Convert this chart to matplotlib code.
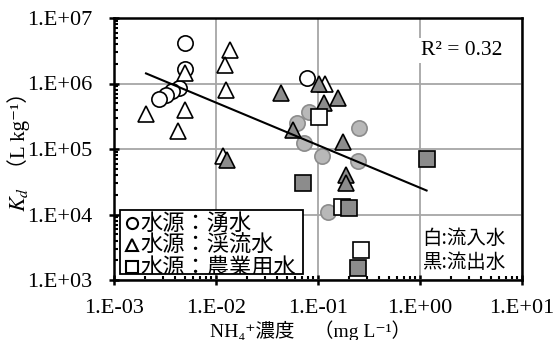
import numpy as np
import matplotlib
matplotlib.use("Agg")
import matplotlib.pyplot as plt
from matplotlib.ticker import LogLocator, FuncFormatter, NullFormatter
from matplotlib.patches import Rectangle
from matplotlib.lines import Line2D

# ---- data (NH4+ concentration mg/L, Kd L/kg) ----
spring_in_x = [0.00497, 0.0050, 0.00437, 0.00368, 0.00323, 0.00278, 0.0785]
spring_in_y = [4.15e6, 1.66e6, 8.6e5, 7.7e5, 6.7e5, 5.8e5, 1.2e6]
spring_out_x = [0.0817, 0.0618, 0.0729, 0.110, 0.252, 0.248, 0.126]
spring_out_y = [3.7e5, 2.5e5, 1.22e5, 7.7e4, 2.1e5, 6.6e4, 1.1e4]
stream_in_x = [0.0137, 0.01225, 0.0124, 0.00497, 0.00497, 0.00427, 0.00206, 0.0118, 0.117]
stream_in_y = [3.3e6, 1.9e6, 8.0e5, 1.43e6, 4.0e5, 1.9e5, 3.4e5, 7.8e4, 9.8e5]
stream_out_x = [0.043, 0.103, 0.1146, 0.158, 0.0573, 0.175, 0.188, 0.188, 0.0127]
stream_out_y = [7.1e5, 9.8e5, 5.0e5, 6.0e5, 1.95e5, 1.3e5, 4.0e4, 3.0e4, 6.8e4]
agri_in_x = [0.103, 0.171, 0.264]
agri_in_y = [3.05e5, 1.3e4, 2.9e3]
agri_out_x = [0.0708, 0.203, 0.248, 1.16]
agri_out_y = [3.0e4, 1.25e4, 1.5e3, 7.0e4]

# power trendline y = a * x^b
trend_a = 2.56e4
trend_b = -0.65
r2_text = "R² = 0.32"

legend_labels = ["水源：湧水", "水源：渓流水", "水源：農業用水"]
note_labels = ["白:流入水", "黒:流出水"]
xlabel_text = "NH₄⁺濃度　（mg L⁻¹）"
ylabel_unit = "（L kg⁻¹）"

SERIF = ["Liberation Serif", "DejaVu Serif", "Noto Sans CJK JP"]
CJK = ["Noto Sans CJK JP", "DejaVu Sans"]

fig = plt.figure(figsize=(5.59, 3.40), dpi=100)
ax = fig.add_axes([114/559, 1-280/340, (522-114)/559, (280-18)/340])
ax.set_xscale("log")
ax.set_yscale("log")
ax.set_xlim(1e-3, 1e1)
ax.set_ylim(1e3, 1e7)

ax.grid(True, which="major", color="#a6a6a6", lw=1.3, zorder=0)
ax.set_axisbelow(True)

ms = 11
mew = 1.2
gray_fill = "#8c8c8c"
ax.plot(spring_in_x, spring_in_y, "o", ms=ms, mfc="white", mec="black", mew=mew, ls="none", zorder=3)
ax.plot(spring_out_x, spring_out_y, "o", ms=ms, mfc="#b8b8b8", mec="#8c8c8c", mew=mew, ls="none", zorder=3)
ax.plot(stream_in_x, stream_in_y, "^", ms=ms, mfc="white", mec="black", mew=mew, ls="none", zorder=4)
ax.plot(stream_out_x, stream_out_y, "^", ms=ms, mfc=gray_fill, mec="black", mew=mew, ls="none", zorder=4)
ax.plot(agri_in_x, agri_in_y, "s", ms=ms, mfc="white", mec="black", mew=mew, ls="none", zorder=5)
ax.plot(agri_out_x, agri_out_y, "s", ms=ms, mfc=gray_fill, mec="black", mew=mew, ls="none", zorder=5)

allx = np.array(spring_in_x + spring_out_x + stream_in_x + stream_out_x + agri_in_x + agri_out_x)
tx = np.logspace(np.log10(allx.min()), np.log10(allx.max()), 50)
ax.plot(tx, trend_a * tx ** trend_b, color="black", lw=1.5, zorder=6)

# ticks
for side in ["left", "right", "top", "bottom"]:
    ax.spines[side].set_linewidth(1.8)
    ax.spines[side].set_color("black")
ax.xaxis.set_major_locator(LogLocator(base=10, numticks=10))
ax.yaxis.set_major_locator(LogLocator(base=10, numticks=10))
ax.xaxis.set_minor_locator(LogLocator(base=10, subs=np.arange(2, 10), numticks=20))
ax.yaxis.set_minor_locator(LogLocator(base=10, subs=np.arange(2, 10), numticks=20))
fmt = FuncFormatter(lambda v, p: "1.E{:+03d}".format(int(round(np.log10(v)))))
ax.xaxis.set_major_formatter(fmt)
ax.yaxis.set_major_formatter(fmt)
ax.xaxis.set_minor_formatter(NullFormatter())
ax.yaxis.set_minor_formatter(NullFormatter())
ax.tick_params(which="major", direction="inout", length=7, width=1.8, labelsize=16)
ax.tick_params(axis="y", which="major", pad=12)
ax.tick_params(axis="x", which="major", pad=10)
ax.tick_params(which="minor", direction="in", length=3, width=1.5)
for lab in ax.get_xticklabels() + ax.get_yticklabels():
    lab.set_fontfamily(SERIF)

# R2 text
ax.text(0.752, 0.875, r2_text, transform=ax.transAxes, fontsize=15.5, family=SERIF,
        va="center", ha="left", bbox=dict(fc="white", ec="none", pad=2), zorder=7)

# notes
ax.text(0.755, 0.160, note_labels[0], transform=ax.transAxes, fontsize=14, family=CJK,
        va="center", ha="left", zorder=7)
ax.text(0.755, 0.068, note_labels[1], transform=ax.transAxes, fontsize=14, family=CJK,
        va="center", ha="left", zorder=7)

# manual legend (box clips text as in reference)
lx0, lx1 = (120-114)/408, (303-114)/408
ly0, ly1 = (280-274)/262, (280-210)/262
rect = Rectangle((lx0, ly0), lx1-lx0, ly1-ly0, transform=ax.transAxes, fc="white",
                 ec="black", lw=1.3, zorder=8)
ax.add_patch(rect)
markers = ["o", "^", "s"]
rows = [(280-223)/262, (280-245)/262, (280-267)/262]
for m, lab, ry in zip(markers, legend_labels, rows):
    ax.add_line(Line2D([0.044], [ry], marker=m, ms=8, mfc="white", mec="black", mew=1.5,
                       ls="none", transform=ax.transAxes, zorder=9))
    t = ax.text(0.064, ry, lab, transform=ax.transAxes, fontsize=16, family=CJK,
                va="center", ha="left", zorder=9)
    t.set_clip_path(rect)
    t.set_clip_on(True)

# axis labels
fig.text(310/559, 1-331/340, xlabel_text, ha="center", va="center", fontsize=14, family=SERIF)
fig.text(19/559, 1-199/340, r"$K_d$", ha="center", va="center", fontsize=16, rotation=90,
         math_fontfamily="stix")
fig.text(19/559, 1-130/340, ylabel_unit, ha="center", va="center", fontsize=15, rotation=90,
         family=SERIF)

fig.savefig("out.png", dpi=100)
